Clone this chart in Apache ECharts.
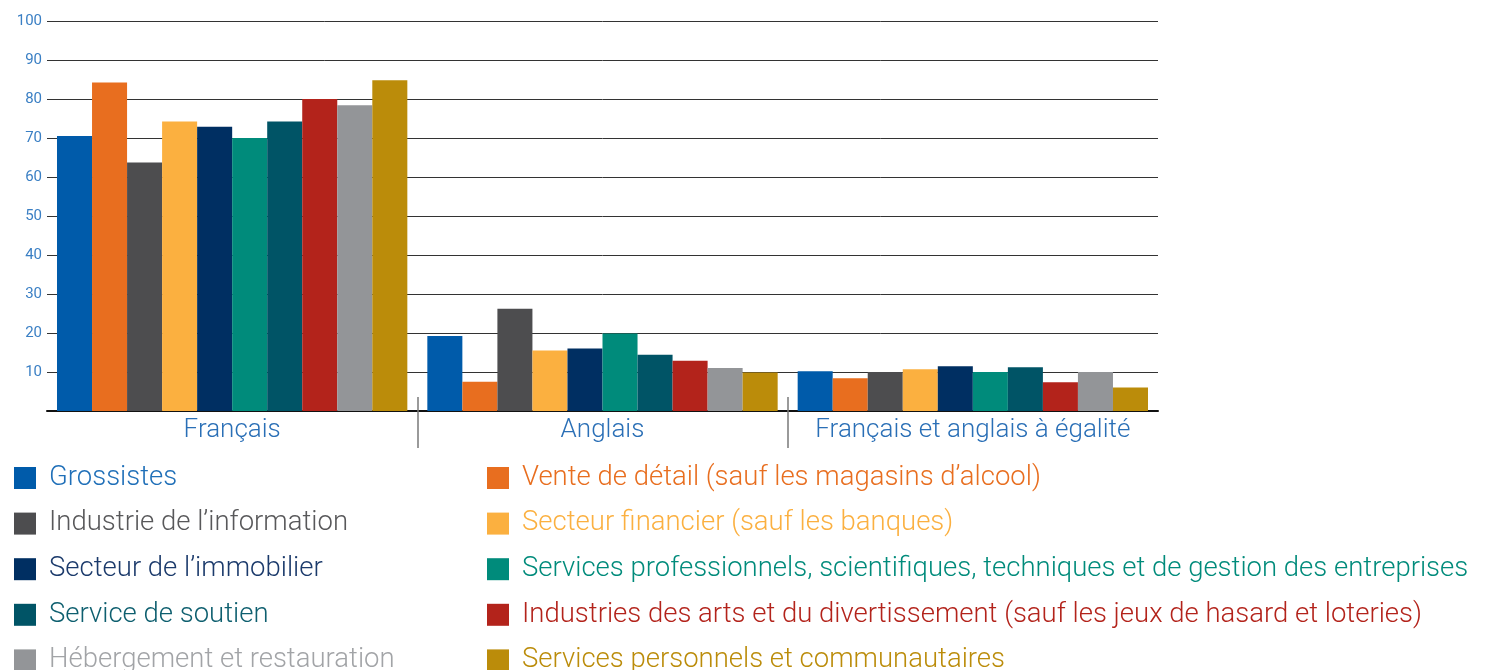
<!DOCTYPE html>
<html>
<head>
<meta charset="utf-8">
<script src="https://cdn.jsdelivr.net/npm/echarts@6/dist/echarts.min.js"></script>
<style>
  html, body { margin: 0; padding: 0; background: #fff; }
  #chart { width: 1495px; height: 670px; }
</style>
</head>
<body>
<div id="chart"></div>
<script>
// catégories de langue
var categories = ["Français", "Anglais", "Français et anglais à égalité"];
var yTicks = [10, 20, 30, 40, 50, 60, 70, 80, 90, 100];

// secteurs (ordre des barres)
var seriesNames = [
  "Grossistes",
  "Vente de détail (sauf les magasins d’alcool)",
  "Industrie de l’information",
  "Secteur financier (sauf les banques)",
  "Secteur de l’immobilier",
  "Services professionnels, scientifiques, techniques et de gestion des entreprises",
  "Service de soutien",
  "Industries des arts et du divertissement (sauf les jeux de hasard et loteries)",
  "Hébergement et restauration",
  "Services personnels et communautaires"
];
var seriesColors = ["#005baa", "#e86e1f", "#4d4d4f", "#fbb040", "#002f62",
                    "#008b7b", "#005466", "#b3231b", "#939598", "#bb8c0a"];
var textColors = ["#1f6fb8", "#e86e1f", "#58585a", "#fbb040", "#1b3a6b",
                  "#008b7b", "#0e5f6f", "#b3231b", "#a2a4a7", "#bb8c0a"];

// valeurs (%) par catégorie : Français, Anglais, égalité
var grossistes   = [70.5, 19.2, 10.2];
var venteDetail  = [84.2, 7.5, 8.4];
var information  = [63.7, 26.2, 10];
var financier    = [74.2, 15.5, 10.7];
var immobilier   = [72.9, 16, 11.5];
var servicesPro  = [70, 19.9, 10];
var soutien      = [74.2, 14.4, 11.2];
var arts         = [80, 12.9, 7.4];
var hebergement  = [78.4, 11, 10];
var personnels   = [84.8, 9.9, 6];

var values = [grossistes, venteDetail, information, financier, immobilier,
              servicesPro, soutien, arts, hebergement, personnels];

var chart = echarts.init(document.getElementById("chart"));
var FONT = "Roboto";

var series = seriesNames.map(function (name, i) {
  return {
    name: name,
    type: "bar",
    xAxisIndex: 0,
    barGap: "0%",
    barCategoryGap: "5.4%",
    itemStyle: { color: seriesColors[i] },
    data: values[i]
  };
});

function legendData(start) {
  var arr = [];
  for (var i = start; i < seriesNames.length; i += 2) {
    arr.push({ name: seriesNames[i], textStyle: { color: textColors[i] } });
  }
  return arr;
}

var legendBase = {
  orient: "vertical",
  top: 464,
  height: 300,
  padding: 0,
  icon: "rect",
  itemWidth: 22,
  itemHeight: 22,
  itemGap: 17.6,
  selectedMode: false,
  textStyle: { fontFamily: FONT, fontWeight: 300, fontSize: 27.5, padding: [0, 0, 0, 8] }
};

var option = {
  animation: false,
  textStyle: { fontFamily: FONT },
  grid: { left: 47, right: 337, top: 21, bottom: 259 },
  legend: [
    Object.assign({}, legendBase, { left: 14, data: legendData(0) }),
    Object.assign({}, legendBase, { left: 487, data: legendData(1) })
  ],
  xAxis: [
    {
      type: "category",
      data: categories,
      axisLine: { lineStyle: { color: "#111", width: 2 } },
      axisTick: { show: false },
      axisLabel: { interval: 0, color: "#2a6fb6", fontSize: 26, fontWeight: 300, margin: 6 }
    },
    {
      // séparateurs entre groupes
      type: "value",
      min: 0,
      max: categories.length,
      position: "bottom",
      offset: -14,
      axisLine: { show: false },
      axisLabel: { show: false },
      splitLine: { show: false },
      axisTick: {
        show: true,
        customValues: [1, 2],
        length: 51,
        lineStyle: { color: "#7a7a7a", width: 1.5 }
      }
    }
  ],
  yAxis: {
    type: "value",
    min: 0,
    max: 100,
    interval: 10,
    axisLine: { show: false },
    axisTick: { show: false },
    axisLabel: {
      color: "#3a7fc4",
      fontSize: 15,
      margin: 5,
      formatter: function (v) { return yTicks.indexOf(v) >= 0 ? v : ""; }
    },
    splitLine: { lineStyle: { color: "#333", width: 1 } }
  },
  series: series
};

chart.setOption(option);
</script>
</body>
</html>
